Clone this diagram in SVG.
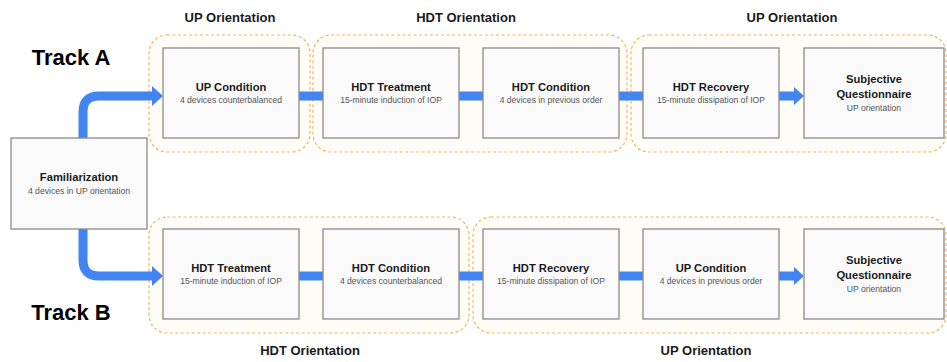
<svg xmlns="http://www.w3.org/2000/svg" width="947" height="362" viewBox="0 0 947 362">
<style>
.grp{fill:#fffcf7;stroke:#f2b55a;stroke-width:1.2;stroke-dasharray:3 2.5}
.box{fill:#fafafa;stroke:#8a8a8a;stroke-width:1.3}
.t{font-family:"Liberation Sans",Arial,sans-serif;font-weight:bold;font-size:11.2px;fill:#1a1a1a;text-anchor:middle}
.s{font-family:"Liberation Sans",Arial,sans-serif;font-size:8.6px;fill:#555;text-anchor:middle}
.h{font-family:"Liberation Sans",Arial,sans-serif;font-weight:bold;font-size:13px;fill:#1a1a1a;text-anchor:middle}
.tr{font-family:"Liberation Sans",Arial,sans-serif;font-weight:bold;font-size:22px;fill:#000;text-anchor:middle}
.c{fill:none;stroke:#4384f3;stroke-width:9}
.ah{fill:#4384f3}
</style>
<g id="groups">
<rect class="grp" x="149" y="35" width="161" height="117" rx="18"/>
<rect class="grp" x="313" y="35" width="314" height="117" rx="18"/>
<rect class="grp" x="631" y="35" width="315" height="117" rx="18"/>
<rect class="grp" x="149" y="217" width="320" height="116" rx="18"/>
<rect class="grp" x="473" y="217" width="473" height="116" rx="18"/>
</g>
<g id="labels">
<text class="h" x="230" y="22">UP Orientation</text>
<text class="h" x="466" y="22">HDT Orientation</text>
<text class="h" x="792" y="22">UP Orientation</text>
<text class="h" x="310" y="355">HDT Orientation</text>
<text class="h" x="706" y="355">UP Orientation</text>
<text class="tr" x="71" y="65">Track A</text>
<text class="tr" x="71" y="320">Track B</text>
</g>
<g id="connectors">
<path class="c" d="M83,139 V112 Q83,96 99,96 H153"/>
<polygon class="ah" points="152,86 163,96 152,106"/>
<path class="c" d="M83,228 V260 Q83,276 99,276 H153"/>
<polygon class="ah" points="152,266 163,276 152,286"/>
<path class="c" d="M299,96 H323"/>
<path class="c" d="M459,96 H483"/>
<path class="c" d="M619,96 H643"/>
<path class="c" d="M779,96 H795"/>
<polygon class="ah" points="794,87 804,96 794,105"/>
<path class="c" d="M299,276 H323"/>
<path class="c" d="M459,276 H483"/>
<path class="c" d="M619,276 H643"/>
<path class="c" d="M779,276 H795"/>
<polygon class="ah" points="794,267 804,276 794,285"/>
</g>
<g id="familiarization">
<rect class="box" x="11" y="138" width="136" height="91"/>
<text class="t" x="79" y="181">Familiarization</text>
<text class="s" x="79" y="193.5">4 devices in UP orientation</text>
</g>
<g id="a-up-condition">
<rect class="box" x="163" y="48" width="136" height="90"/>
<text class="t" x="231" y="91">UP Condition</text>
<text class="s" x="231" y="103">4 devices counterbalanced</text>
</g>
<g id="a-hdt-treatment">
<rect class="box" x="323" y="48" width="136" height="90"/>
<text class="t" x="391" y="91">HDT Treatment</text>
<text class="s" x="391" y="103">15-minute induction of IOP</text>
</g>
<g id="a-hdt-condition">
<rect class="box" x="483" y="48" width="136" height="90"/>
<text class="t" x="551" y="91">HDT Condition</text>
<text class="s" x="551" y="103">4 devices in previous order</text>
</g>
<g id="a-hdt-recovery">
<rect class="box" x="643" y="48" width="136" height="90"/>
<text class="t" x="711" y="91">HDT Recovery</text>
<text class="s" x="711" y="103">15-minute dissipation of IOP</text>
</g>
<g id="a-questionnaire">
<rect class="box" x="804" y="48" width="140" height="90"/>
<text class="t" x="874" y="83">Subjective</text>
<text class="t" x="874" y="98">Questionnaire</text>
<text class="s" x="874" y="111">UP orientation</text>
</g>
<g id="b-hdt-treatment">
<rect class="box" x="163" y="229" width="136" height="90"/>
<text class="t" x="231" y="272">HDT Treatment</text>
<text class="s" x="231" y="284">15-minute induction of IOP</text>
</g>
<g id="b-hdt-condition">
<rect class="box" x="323" y="229" width="136" height="90"/>
<text class="t" x="391" y="272">HDT Condition</text>
<text class="s" x="391" y="284">4 devices counterbalanced</text>
</g>
<g id="b-hdt-recovery">
<rect class="box" x="483" y="229" width="136" height="90"/>
<text class="t" x="551" y="272">HDT Recovery</text>
<text class="s" x="551" y="284">15-minute dissipation of IOP</text>
</g>
<g id="b-up-condition">
<rect class="box" x="643" y="229" width="136" height="90"/>
<text class="t" x="711" y="272">UP Condition</text>
<text class="s" x="711" y="284">4 devices in previous order</text>
</g>
<g id="b-questionnaire">
<rect class="box" x="804" y="229" width="140" height="90"/>
<text class="t" x="874" y="264">Subjective</text>
<text class="t" x="874" y="279">Questionnaire</text>
<text class="s" x="874" y="292">UP orientation</text>
</g>
</svg>
